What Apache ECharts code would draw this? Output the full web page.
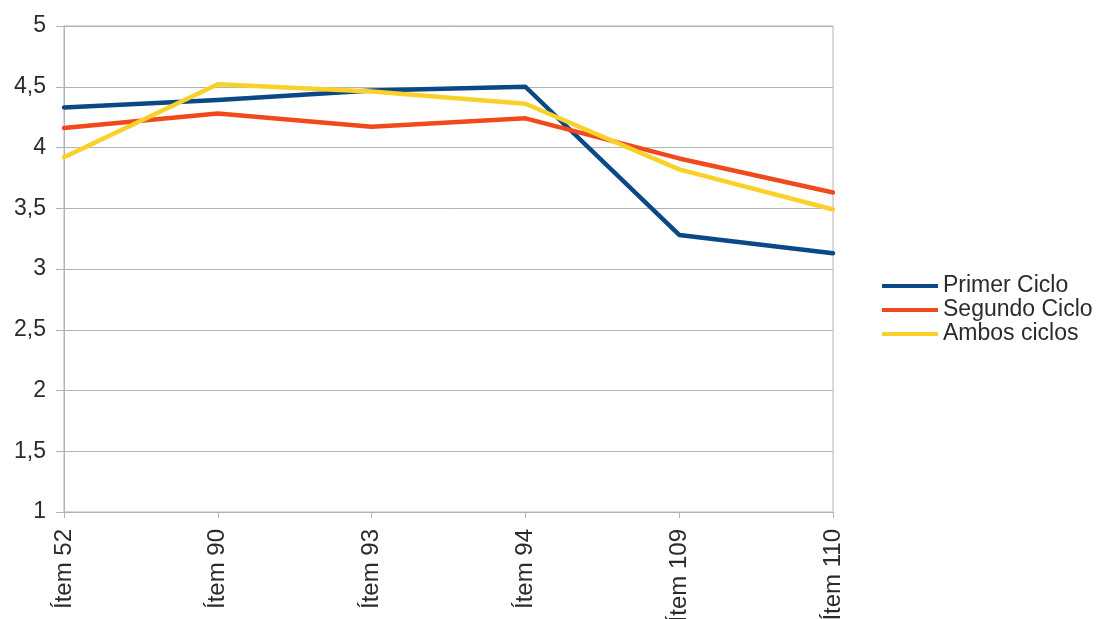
<!DOCTYPE html>
<html>
<head>
<meta charset="utf-8">
<script src="https://cdn.jsdelivr.net/npm/echarts@6/dist/echarts.min.js"></script>
<style>
  html, body { margin: 0; padding: 0; background: #ffffff; overflow: hidden; width: 1099px; height: 619px; }
  #chart { position: absolute; left: 0; top: 0; width: 1099px; height: 619px; }
</style>
</head>
<body>
<div id="chart"></div>
<script>
// Item categories along the x axis
const categories = ['Ítem 52', 'Ítem 90', 'Ítem 93', 'Ítem 94', 'Ítem 109', 'Ítem 110'];

// Mean scores per cycle
const primerCiclo  = [4.33, 4.39, 4.47, 4.50, 3.28, 3.13];
const segundoCiclo = [4.16, 4.28, 4.17, 4.24, 3.91, 3.63];
const ambosCiclos  = [3.92, 4.52, 4.46, 4.36, 3.82, 3.49];

const seriesNames = ['Primer Ciclo', 'Segundo Ciclo', 'Ambos ciclos'];
const seriesColors = ['#0a4886', '#f04a1c', '#fad128'];

// Value axis range and step (decimal comma on labels)
const yMin = 1, yMax = 5, yStep = 0.5;

const textColor = '#2b2b2b';
const gridColor = '#b3b3b3';
const fontFamily = '"Liberation Sans", Arial, sans-serif';

const chart = echarts.init(document.getElementById('chart'), null, { renderer: 'canvas', width: 1099, height: 619 });

const values = [primerCiclo, segundoCiclo, ambosCiclos];

chart.setOption({
  backgroundColor: '#ffffff',
  animation: false,
  textStyle: { fontFamily: fontFamily },
  grid: {
    left: 64, right: 266, top: 26, bottom: 107,
    show: true, borderColor: gridColor, borderWidth: 1,
    containLabel: false,
    // the rotated item labels run past the bottom edge; keep the plot box fixed
    outerBoundsMode: 'none'
  },
  legend: {
    orient: 'vertical',
    left: 877, top: 269,
    itemWidth: 56, itemHeight: 4, itemGap: 0,
    icon: 'rect',
    data: seriesNames,
    textStyle: {
      color: textColor, fontSize: 23, fontFamily: fontFamily,
      lineHeight: 24
    }
  },
  xAxis: {
    type: 'category',
    data: categories,
    boundaryGap: false,
    axisLine: { lineStyle: { color: gridColor, width: 1 } },
    axisTick: { show: true, length: 6, lineStyle: { color: gridColor } },
    splitLine: { show: false },
    axisLabel: {
      rotate: 90, margin: 17, color: textColor, fontSize: 24,
      fontFamily: fontFamily, interval: 0
    }
  },
  yAxis: {
    type: 'value',
    min: yMin, max: yMax, interval: yStep,
    axisLine: { show: true, lineStyle: { color: gridColor, width: 1 } },
    axisTick: { show: true, length: 8, lineStyle: { color: gridColor } },
    splitLine: { show: true, lineStyle: { color: gridColor, width: 1 } },
    axisLabel: {
      margin: 18, color: textColor, fontSize: 23, fontFamily: fontFamily,
      formatter: v => String(v).replace('.', ',')
    }
  },
  series: seriesNames.map((name, i) => ({
    name: name,
    type: 'line',
    data: values[i],
    showSymbol: false,
    symbol: 'none',
    smooth: false,
    color: seriesColors[i],
    lineStyle: { width: 4.5, color: seriesColors[i], cap: 'round', join: 'round' }
  }))
});
</script>
</body>
</html>
